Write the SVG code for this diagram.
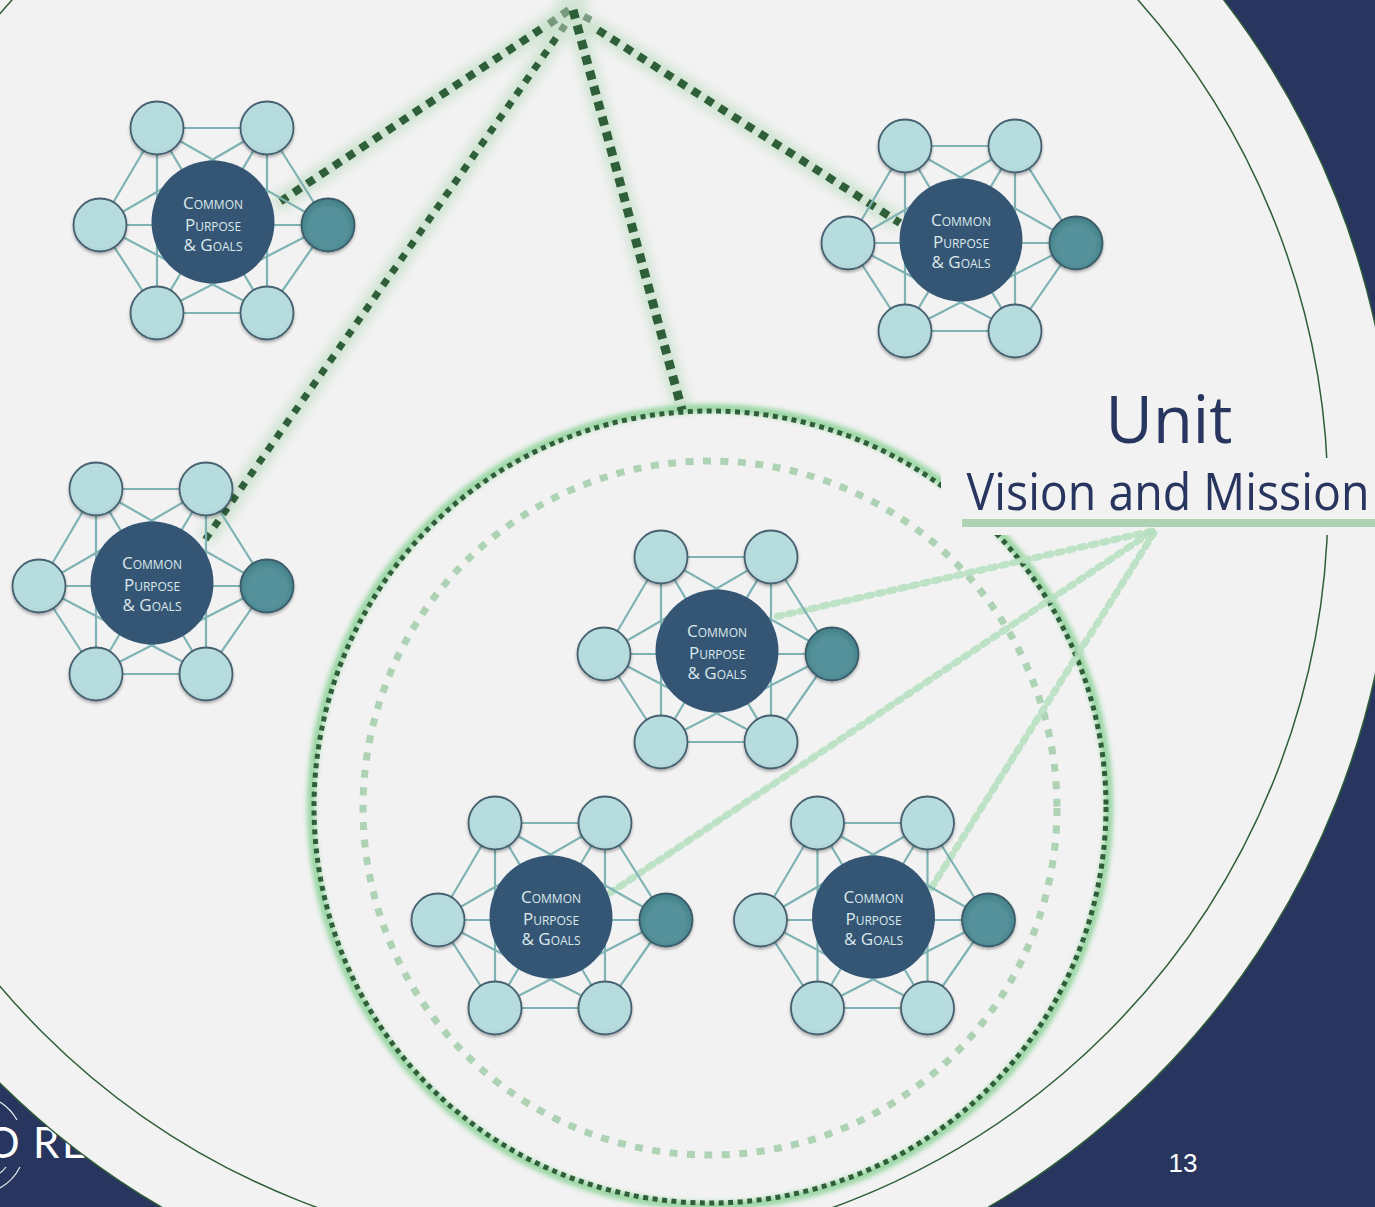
<svg xmlns="http://www.w3.org/2000/svg" xmlns:xlink="http://www.w3.org/1999/xlink" width="1375" height="1207" viewBox="0 0 1375 1207">
<style>
.ring{fill:none;stroke:#2f5f38;stroke-width:1.5}
.mesh line{stroke:#7fb3b3;stroke-width:2.2}
.sat{fill:url(#lt);stroke:#46606f;stroke-width:1.8;filter:url(#sh)}
.lead{fill:url(#dk);stroke:#3a5b68;stroke-width:1.8;filter:url(#sh)}
.hub{fill:#345674}
.ht{font-family:"Open Sans","Noto Sans",sans-serif;font-size:17px;font-variant:small-caps;fill:#dce8ec;text-anchor:middle}
.dk{fill:none;stroke:#2f5f38}
.glow{fill:none;stroke:#a5d2ab;stroke-opacity:.5;stroke-width:16;filter:url(#bl)}
.ll{fill:none;stroke:#b5dfbe;stroke-opacity:.85;stroke-width:7;stroke-dasharray:5 6.5;stroke-linecap:round}
.ti{font-family:"Open Sans","Noto Sans",sans-serif;fill:#27355f;text-anchor:middle}
</style>
<defs>
<radialGradient id="lt" cx=".5" cy=".45" r=".6"><stop offset=".75" stop-color="#b7dcde"/><stop offset="1" stop-color="#a9cfd2"/></radialGradient>
<radialGradient id="dk" cx=".5" cy=".55" r=".6"><stop offset=".6" stop-color="#55919b"/><stop offset="1" stop-color="#3c7a80"/></radialGradient>
<filter id="sh" x="-20%" y="-20%" width="140%" height="150%"><feDropShadow dx="0" dy="2" stdDeviation="1.5" flood-color="#000" flood-opacity=".3"/></filter>
<filter id="bl" x="-30%" y="-30%" width="160%" height="160%"><feGaussianBlur stdDeviation="6"/></filter>
<filter id="bl2" x="-10%" y="-10%" width="120%" height="120%"><feGaussianBlur stdDeviation="2.5"/></filter>
<g id="mesh" class="mesh">
<line x1="-56" y1="-94" x2="54" y2="-94"/><line x1="54" y1="-94" x2="115" y2="3"/><line x1="115" y1="3" x2="54" y2="91"/><line x1="54" y1="91" x2="-56" y2="91"/><line x1="-56" y1="91" x2="-113" y2="3"/><line x1="-113" y1="3" x2="-56" y2="-94"/>
<line x1="-56" y1="-94" x2="-56" y2="91"/><line x1="54" y1="-94" x2="54" y2="91"/>
<line x1="-56" y1="-94" x2="115" y2="3"/><line x1="54" y1="-94" x2="-113" y2="3"/><line x1="-113" y1="3" x2="54" y2="91"/><line x1="115" y1="3" x2="-56" y2="91"/>
<line x1="-56" y1="-94" x2="54" y2="91"/><line x1="54" y1="-94" x2="-56" y2="91"/><line x1="-113" y1="3" x2="115" y2="3"/>
</g>
<g id="sats">
<circle class="sat" cx="-56" cy="-94" r="26.5"/><circle class="sat" cx="54" cy="-94" r="26.5"/><circle class="sat" cx="-113" cy="3" r="26.5"/><circle class="sat" cx="-56" cy="91" r="26.5"/><circle class="sat" cx="54" cy="91" r="26.5"/>
<circle class="lead" cx="115" cy="3" r="26.5"/>
<circle class="hub" cx="0" cy="0" r="61.5"/>
</g>
</defs>
<rect id="background" width="1375" height="1207" fill="#27355f"/>
<g id="logo" fill="none" stroke="#e8ecf2" stroke-width="1.2">
<path d="M0 1102A50 50 0 0 1 17 1120M20 1167A50 50 0 0 1 0 1188M0 1173A30 30 0 0 0 6 1167"/>
<text x="-14 33 62" y="1158" font-family="Lato,'Open Sans',sans-serif" font-size="42" fill="#fff" stroke="none">ORE</text>
</g>
<circle id="outer-ring" class="ring" cx="575" cy="500" r="819" fill="#f2f2f2" style="fill:#f2f2f2"/>
<circle id="inner-ring" class="ring" cx="575" cy="500" r="753"/>

<g id="connectors">
<g id="glows">
<path class="glow" d="M565 13L275 205M587 23L900 223M563 28L205 540M574 15L682 410"/>
<circle cx="573" cy="6" r="16" fill="#a5d2ab" opacity=".4" filter="url(#bl)"/>
<circle cx="710" cy="807" r="399" fill="none" stroke="#97d6a2" stroke-width="8" filter="url(#bl2)"/>
</g>
<circle class="dk" cx="710" cy="807" r="396" stroke-width="5" stroke-dasharray="5 4.5"/>
<circle cx="710" cy="808" r="347" fill="none" stroke="#aed2b4" stroke-width="7" stroke-dasharray="8 9.5"/>
<path class="dk" stroke-width="8" stroke-dasharray="8.5 7.5" d="M541 29L275 205"/>
<path class="dk" stroke-width="8" stroke-dasharray="8.5 7.5" d="M598 30L900 223"/>
<path class="dk" stroke-width="7" stroke-dasharray="7.5 8" d="M556 38L205 540"/>
<path class="dk" stroke-width="9" stroke-dasharray="9 6.8" d="M573 10L682 410"/>
<path class="dk" stroke-width="8" stroke-dasharray="8.5 7.5" opacity=".55" d="M569 10L549 24"/>
<path class="dk" stroke-width="7" stroke-dasharray="8 8" opacity=".55" d="M591 20L583 16"/>
<path class="dk" stroke-width="7" stroke-dasharray="8" opacity=".55" d="M565 25L561 31"/>
</g>

<rect id="title-patch" x="941" y="458" width="434" height="77" fill="#f2f2f2"/>
<g id="connectors-light">
<path class="ll" d="M1152 531L775 617"/>
<path class="ll" d="M1150 533L610 893"/>
<path class="ll" d="M1154 533L930 890"/>
</g>

<g id="cluster-1" transform="translate(213 222)"><use href="#mesh"/><use href="#sats"/><text class="ht"><tspan x="0" y="-13">Common</tspan><tspan x="0" y="9">Purpose</tspan><tspan x="0" y="29">&amp; Goals</tspan></text></g>
<g id="cluster-2" transform="translate(961 240)"><use href="#mesh"/><use href="#sats"/><text class="ht"><tspan x="0" y="-14">Common</tspan><tspan x="0" y="8">Purpose</tspan><tspan x="0" y="28">&amp; Goals</tspan></text></g>
<g id="cluster-3" transform="translate(152 583)"><use href="#mesh"/><use href="#sats"/><text class="ht"><tspan x="0" y="-14">Common</tspan><tspan x="0" y="8">Purpose</tspan><tspan x="0" y="28">&amp; Goals</tspan></text></g>
<g id="cluster-4" transform="translate(717 651)"><use href="#mesh"/><use href="#sats"/><text class="ht"><tspan x="0" y="-14">Common</tspan><tspan x="0" y="8">Purpose</tspan><tspan x="0" y="28">&amp; Goals</tspan></text></g>
<g id="cluster-5" transform="translate(551 917)"><use href="#mesh"/><use href="#sats"/><text class="ht"><tspan x="0" y="-14">Common</tspan><tspan x="0" y="8">Purpose</tspan><tspan x="0" y="28">&amp; Goals</tspan></text></g>
<g id="cluster-6" transform="translate(873.500 917)"><use href="#mesh"/><use href="#sats"/><text class="ht"><tspan x="0" y="-14">Common</tspan><tspan x="0" y="8">Purpose</tspan><tspan x="0" y="28">&amp; Goals</tspan></text></g>

<g id="title">
<text class="ti" x="1169" y="443" font-size="65">Unit</text>
<text class="ti" x="1168" y="510" font-size="52" textLength="403" lengthAdjust="spacingAndGlyphs">Vision and Mission</text>
<rect x="962" y="519" width="413" height="8" fill="#aed2b4"/>
</g>
<text id="page-number" x="1183" y="1172" font-family="'Liberation Sans',sans-serif" font-size="26" fill="#fff" text-anchor="middle">13</text>
</svg>
